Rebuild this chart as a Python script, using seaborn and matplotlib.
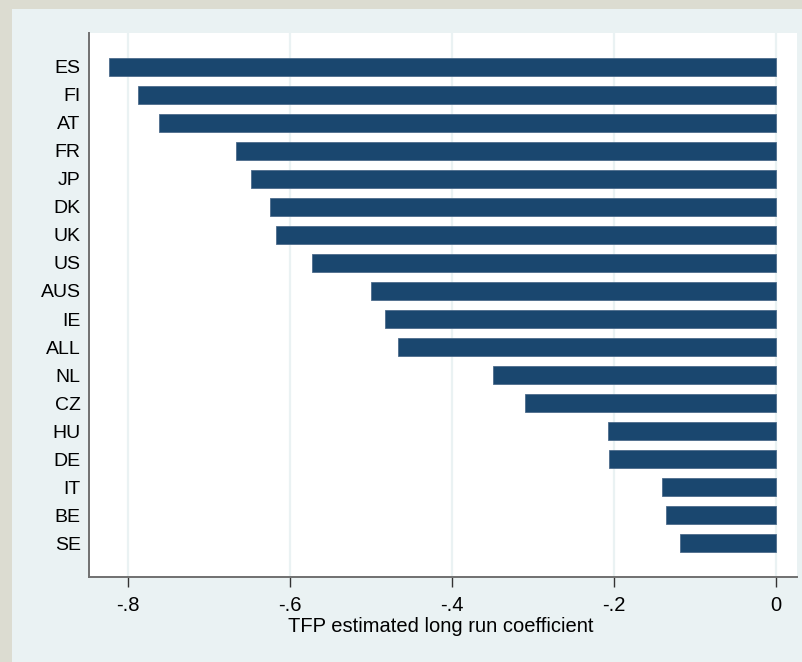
import matplotlib
matplotlib.use("Agg")
import matplotlib.pyplot as plt
from matplotlib.patches import Rectangle
import seaborn as sns
import pandas as pd

countries = ["ES", "FI", "AT", "FR", "JP", "DK", "UK", "US", "AUS", "IE",
             "ALL", "NL", "CZ", "HU", "DE", "IT", "BE", "SE"]
coefficients = [-0.823, -0.788, -0.762, -0.667, -0.648, -0.625, -0.617, -0.573,
                -0.500, -0.483, -0.467, -0.349, -0.310, -0.207, -0.206, -0.141,
                -0.136, -0.119]
x_ticks = [-0.8, -0.6, -0.4, -0.2, 0.0]
x_tick_labels = ["-.8", "-.6", "-.4", "-.2", "0"]

df = pd.DataFrame({"country": countries, "coef": coefficients})

sns.set_theme(style="white")
plt.rcParams["font.family"] = ["Liberation Sans", "DejaVu Sans"]

W, H = 803, 662
fig = plt.figure(figsize=(W / 100, H / 100), dpi=100)
fig.patch.set_facecolor("#dcdcd1")
fig.add_artist(Rectangle((12 / W, 0), 1 - 12 / W, (H - 9) / H,
                         transform=fig.transFigure, facecolor="#eaf2f3",
                         edgecolor="none", zorder=0))

ax = fig.add_axes([89 / W, 1 - 577 / H, (797 - 89) / W, (577 - 33) / H])
ax.set_facecolor("white")

sns.barplot(data=df, x="coef", y="country", orient="h", color="#1a476f",
            saturation=1, width=0.64, edgecolor="#4d6c8c", linewidth=0.6,
            ax=ax, zorder=3)

n = len(countries)
ax.set_ylim(n - 1 + 1.21, -1.21)
ax.set_xlim(-0.848, 0.026)
ax.set_xticks(x_ticks)
ax.set_xticklabels(x_tick_labels)

for t in x_ticks:
    ax.axvline(t, color="#eaf2f3", linewidth=1.6, zorder=1)

for side in ("top", "right"):
    ax.spines[side].set_visible(False)
for side in ("left", "bottom"):
    ax.spines[side].set_color("#707070")
    ax.spines[side].set_linewidth(1.4)

fs = 14.5
ax.tick_params(axis="y", length=0, pad=6, labelsize=14, labelcolor="black")
ax.tick_params(axis="x", length=7, width=1.0, color="#333333", pad=7,
               labelsize=fs, labelcolor="black", bottom=True)

ax.set_ylabel("")
ax.set_xlabel("TFP estimated long run coefficient", fontsize=fs,
              color="black", labelpad=1)
ax.xaxis.set_label_coords((441 - 89) / (797 - 89), -0.074, transform=ax.transAxes)
ax.xaxis.label.set_verticalalignment("top")

fig.savefig("out.png", dpi=100, facecolor=fig.get_facecolor())
